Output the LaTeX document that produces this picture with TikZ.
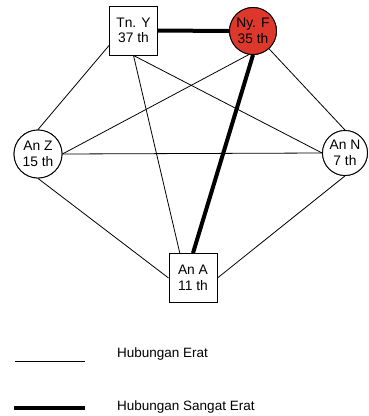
\documentclass[tikz,border=0pt]{standalone}
\usepackage{fontspec}
\setmainfont{Liberation Sans}
\usetikzlibrary{calc}
\definecolor{nodered}{RGB}{222,55,43}
\tikzset{
  person/.style={draw=black, line width=0.9pt, fill=white, align=center,
    font=\fontsize{13.8}{15.5}\selectfont, inner sep=0pt},
  sqnode/.style={person, rectangle, minimum width=48pt, minimum height=49pt},
  rdnode/.style={person, circle, minimum size=47pt},
  erat/.style={line width=0.8pt, draw=black},
  sangat/.style={line width=4pt, draw=black},
  legendtext/.style={anchor=west, font=\fontsize{13.5}{15.5}\selectfont, inner sep=0pt}
}
\begin{document}
\begin{tikzpicture}[x=1pt,y=-1pt]
\useasboundingbox (0,0) rectangle (368,416);

% people
\node[sqnode] (ty) at (133.5,30.5) {Tn. Y\\37 th};
\node[rdnode, fill=nodered] (ny) at (253,31) {Ny. F\\35 th};
\node[rdnode, minimum size=48pt] (az) at (38,154) {An Z\\15 th};
\node[rdnode, minimum size=45pt] (an) at (345,153) {An N\\7 th};
\node[sqnode] (aa) at (193,278) {An A\\11 th};

% attachment points
\coordinate (tyL) at ($(ty.south west)!0.2!(ty.north west)$);
\coordinate (aaT) at ($(aa.north west)!0.23!(aa.north east)$);

% close relations
\draw[erat] (tyL) -- (az.north);
\draw[erat] (ty.south) -- (an.west);
\draw[erat] (ty.south) -- (aaT);
\draw[erat] (ny.-100) -- (az.east);
\draw[erat] (ny.-48) -- (an.north);
\draw[erat] (az.east) -- (an.west);
\draw[erat] (az.south) -- (aa.west);
\draw[erat] (an.south) -- (aa.east);
% very close relations
\draw[sangat] (ty.east) -- (ny.west);
\draw[sangat] (ny.south) -- (aa.north);

% redraw nodes on top of the lines
\node[sqnode] at (ty) {Tn. Y\\37 th};
\node[rdnode, fill=nodered] at (ny) {Ny. F\\35 th};
\node[rdnode, minimum size=48pt] at (az) {An Z\\15 th};
\node[rdnode, minimum size=45pt] at (an) {An N\\7 th};
\node[sqnode] at (aa) {An A\\11 th};

% legend
\coordinate (l1a) at (15,361);
\coordinate (l1b) at (85,361);
\coordinate (l2a) at (14,408);
\coordinate (l2b) at (85,408);
\draw[erat] (l1a) -- (l1b);
\draw[sangat] (l2a) -- (l2b);
\node[legendtext] (t1) at (117,354) {Hubungan Erat};
\node[legendtext] (t2) at (117,407) {Hubungan Sangat Erat};
\end{tikzpicture}
\end{document}
